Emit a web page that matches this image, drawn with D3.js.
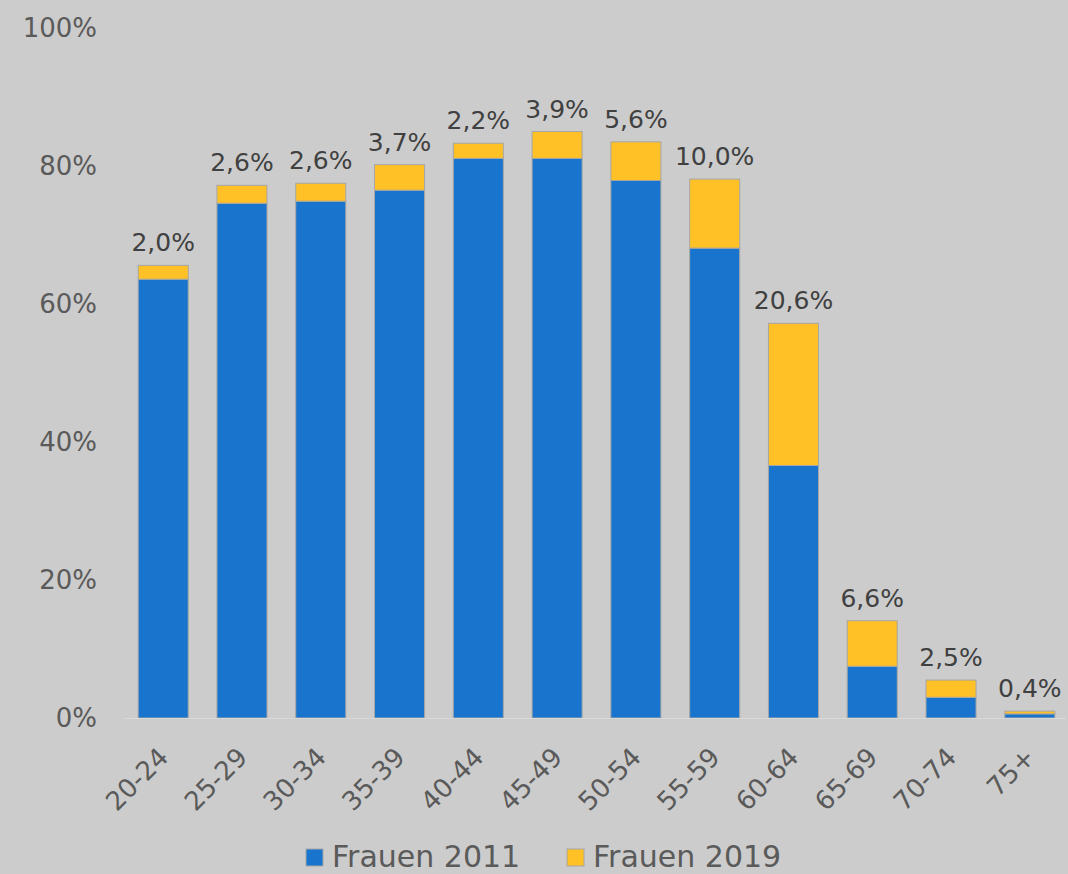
<!DOCTYPE html>
<html>
<head>
<meta charset="utf-8">
<script src="https://cdn.jsdelivr.net/npm/d3@7"></script>
<style>
  body { margin: 0; background: #cccccc; }
  svg { display: block; font-family: "DejaVu Sans", Verdana, sans-serif; }
</style>
</head>
<body>
<svg id="chart" width="1068" height="874"></svg>
<script>
const age_groups = ["20-24","25-29","30-34","35-39","40-44","45-49","50-54","55-59","60-64","65-69","70-74","75+"];
// share of women in employment 2011, and the rise up to 2019 (percent points)
const frauen_2011 = [63.6, 74.6, 74.9, 76.5, 81.1, 81.1, 77.9, 68.1, 36.6, 7.5, 3.0, 0.6];
const zuwachs_2019 = [2.0, 2.6, 2.6, 3.7, 2.2, 3.9, 5.6, 10.0, 20.6, 6.6, 2.5, 0.4];
const y_ticks = [0, 20, 40, 60, 80, 100];
const legend_names = ["Frauen 2011", "Frauen 2019"];

const blue = "#1874cd";
const yellow = "#ffc125";

const svg = d3.select("#chart");

const x = d3.scaleBand()
    .domain(age_groups)
    .range([124, 1069])
    .paddingInner(0.365)
    .paddingOuter(0.18);

const y = d3.scaleLinear()
    .domain([0, 100])
    .range([718, 28]);

//y tick labels, no grid
svg.append("g")
    .selectAll("text")
    .data(y_ticks)
    .enter()
    .append("text")
    .attr("x", 97)
    .attr("y", d => y(d))
    .attr("dy", "0.36em")
    .attr("text-anchor", "end")
    .attr("font-size", 26)
    .attr("fill", "#5a5a5a")
    .text(d => d + "%");

//blue part
svg.append("g")
    .selectAll("rect")
    .data(age_groups)
    .enter()
    .append("rect")
    .attr("x", d => x(d))
    .attr("width", x.bandwidth())
    .attr("y", (d, i) => y(frauen_2011[i]))
    .attr("height", (d, i) => y(0) - y(frauen_2011[i]))
    .attr("fill", blue)
    .attr("stroke", "#a6a6a6")
    .attr("stroke-width", 1);

//yellow part on top
svg.append("g")
    .selectAll("rect")
    .data(age_groups)
    .enter()
    .append("rect")
    .attr("x", d => x(d))
    .attr("width", x.bandwidth())
    .attr("y", (d, i) => y(frauen_2011[i] + zuwachs_2019[i]))
    .attr("height", (d, i) => y(frauen_2011[i]) - y(frauen_2011[i] + zuwachs_2019[i]))
    .attr("fill", yellow)
    .attr("stroke", "#a6a6a6")
    .attr("stroke-width", 1);

//labels above bars
svg.append("g")
    .selectAll("text")
    .data(age_groups)
    .enter()
    .append("text")
    .attr("x", d => x(d) + x.bandwidth() / 2)
    .attr("y", (d, i) => y(frauen_2011[i] + zuwachs_2019[i]) - 14)
    .attr("text-anchor", "middle")
    .attr("font-size", 25)
    .attr("fill", "#404040")
    .text((d, i) => zuwachs_2019[i].toFixed(1).replace(".", ",") + "%");

//baseline
svg.append("line")
    .attr("x1", 124)
    .attr("x2", 1066)
    .attr("y1", y(0) + 0.5)
    .attr("y2", y(0) + 0.5)
    .attr("stroke", "#d9d9d9")
    .attr("stroke-width", 1);

//rotated category labels
svg.append("g")
    .selectAll("text")
    .data(age_groups)
    .enter()
    .append("text")
    .attr("transform", d => "translate(" + (x(d) + x.bandwidth() / 2 - 6) + ",746) rotate(-45)")
    .attr("text-anchor", "end")
    .attr("dy", "0.7em")
    .attr("font-size", 26)
    .attr("fill", "#5a5a5a")
    .text(d => d);

//legend
const legend = svg.append("g");
const leg_x = [306, 567];
const leg_col = [blue, yellow];
legend_names.forEach((name, i) => {
    legend.append("rect")
        .attr("x", leg_x[i])
        .attr("y", 849)
        .attr("width", 17)
        .attr("height", 17)
        .attr("fill", leg_col[i])
        .attr("stroke", "#a6a6a6");
    legend.append("text")
        .attr("x", leg_x[i] + 26)
        .attr("y", 867)
        .attr("font-size", 30)
        .attr("fill", "#5a5a5a")
        .text(name);
});
</script>
</body>
</html>
